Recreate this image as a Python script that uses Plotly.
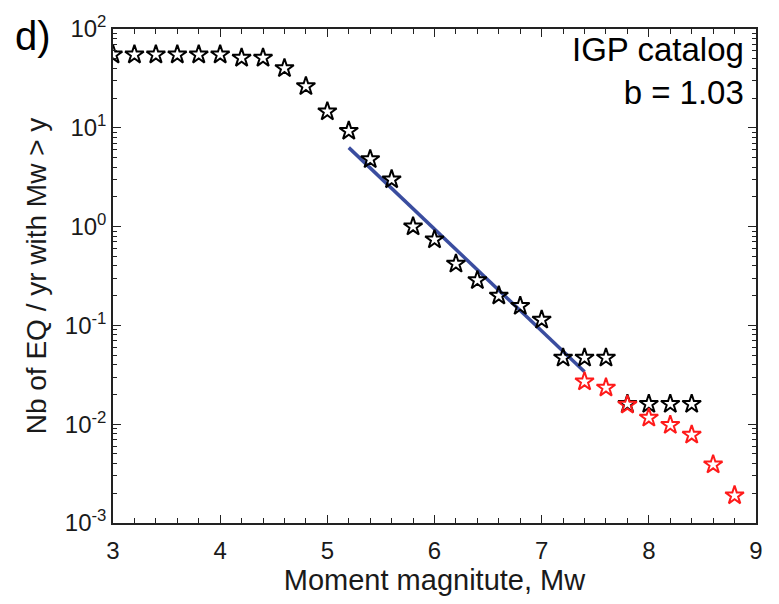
import plotly.graph_objects as go

# Data
mag_black = [3.0, 3.2, 3.4, 3.6, 3.8, 4.0, 4.2, 4.4, 4.6, 4.8, 5.0, 5.2, 5.4, 5.6,
             5.8, 6.0, 6.2, 6.4, 6.6, 6.8, 7.0, 7.2, 7.4, 7.6, 7.8, 8.0, 8.2, 8.4]
rate_black = [55, 55, 55, 55, 55, 55, 51, 51, 40, 26.3, 14.6, 9.3, 4.8, 3.0,
              1.0, 0.74, 0.42, 0.286, 0.20, 0.157, 0.114, 0.047, 0.047, 0.047,
              0.016, 0.016, 0.016, 0.016]
mag_red = [7.4, 7.6, 7.8, 8.0, 8.2, 8.4, 8.6, 8.8]
rate_red = [0.027, 0.0234, 0.0157, 0.0116, 0.0098, 0.0078, 0.0039, 0.0019]
fit_mag = [5.2, 7.4]
fit_rate = [6.3, 0.034]

ytick_vals = [1e-3, 1e-2, 1e-1, 1, 10, 100]
ytick_text = ["10<sup>-3</sup>", "10<sup>-2</sup>", "10<sup>-1</sup>",
              "10<sup>0</sup>", "10<sup>1</sup>", "10<sup>2</sup>"]
ytick_minor = [m * d for d in [1e-3, 1e-2, 1e-1, 1, 10] for m in range(2, 10)]
xtick_vals = [3, 4, 5, 6, 7, 8, 9]

FONT = "Liberation Sans, Arial, Helvetica, sans-serif"
AX = "#222222"

fig = go.Figure()
fig.add_trace(go.Scatter(x=fit_mag, y=fit_rate, mode="lines",
                         line=dict(color="#3a4d9f", width=3.5), showlegend=False))
fig.add_trace(go.Scatter(x=mag_black, y=rate_black, mode="markers",
                         marker=dict(symbol="star-open", size=14, color="black",
                                     line=dict(width=2, color="black")),
                         showlegend=False))
fig.add_trace(go.Scatter(x=mag_red, y=rate_red, mode="markers",
                         marker=dict(symbol="star-open", size=14, color="#ff1a1a",
                                     line=dict(width=2, color="#ff1a1a")),
                         showlegend=False))

fig.update_layout(
    width=779, height=604,
    margin=dict(l=113, r=23, t=23, b=81),
    paper_bgcolor="white", plot_bgcolor="white",
    font=dict(family=FONT, size=24, color="#1a1a1a"),
    xaxis=dict(range=[3, 9], tickvals=xtick_vals, ticks="inside", ticklen=8,
               tickwidth=1.3, tickcolor=AX, showline=True, linecolor=AX,
               linewidth=1.5, mirror="allticks", showgrid=False, zeroline=False,
               tickfont=dict(size=24), ticklabelstandoff=5,
               minor=dict(dtick=0.2, ticks="inside", ticklen=5, tickcolor=AX,
                          tickwidth=1.2, showgrid=False),
               title=dict(text="Moment magnitute, Mw", font=dict(size=29), standoff=6)),
    yaxis=dict(type="log", range=[-3, 2], tickvals=ytick_vals, ticktext=ytick_text,
               ticks="inside", ticklen=8, tickwidth=1.3, tickcolor=AX,
               showline=True, linecolor=AX, linewidth=1.5, mirror="allticks",
               showgrid=False, zeroline=False, tickfont=dict(size=24),
               ticklabelstandoff=0,
               minor=dict(tickvals=ytick_minor, ticks="inside", ticklen=4,
                          tickcolor=AX, tickwidth=1.2, showgrid=False),
               title=dict(text="Nb of EQ / yr with Mw > y", font=dict(size=28), standoff=10)),
)

fig.add_annotation(text="d)", xref="paper", yref="paper", x=-0.155, y=1.035,
                   xanchor="left", yanchor="top", showarrow=False,
                   font=dict(size=40, color="black"))
fig.add_annotation(text="IGP catalog<br>b = 1.03", xref="paper", yref="paper",
                   x=0.985, y=1.0, xanchor="right", yanchor="top", showarrow=False,
                   align="right", font=dict(size=33, color="black"))

fig.write_html("out.html")
